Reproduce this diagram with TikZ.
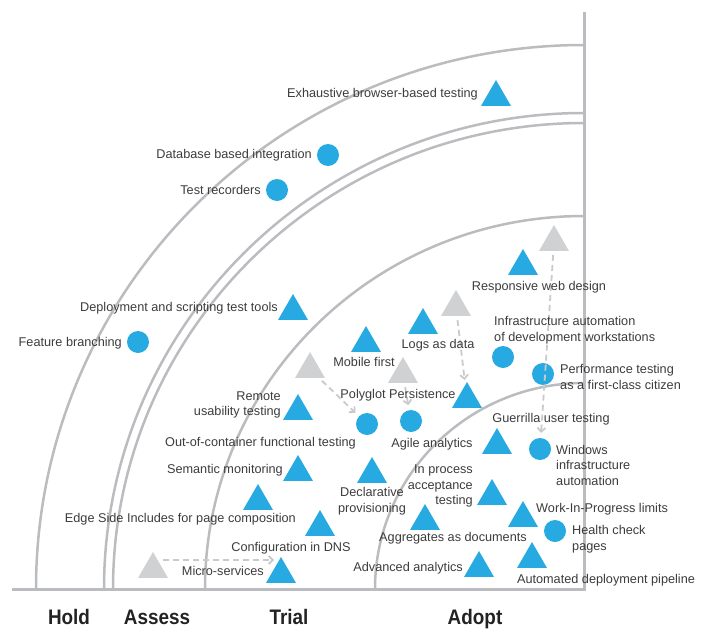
\documentclass[tikz,border=0pt]{standalone}
\usepackage{fontspec}
\setmainfont{Liberation Sans}
\newfontfamily\ringfont[FakeStretch=0.9]{Liberation Sans}
\usetikzlibrary{shapes.geometric,arrows.meta}
\definecolor{rblue}{HTML}{27AAE1}
\definecolor{rgreyT}{HTML}{D0D1D3}
\definecolor{rline}{HTML}{BBBCBF}
\definecolor{rtext}{HTML}{3C3C3C}
\definecolor{rdash}{HTML}{C9CACC}
\definecolor{rhead}{HTML}{222222}
\begin{document}
\begin{tikzpicture}[x=1pt,y=-1pt,
 tri/.style={regular polygon,regular polygon sides=3,minimum size=34.6pt,inner sep=0pt,outer sep=0pt,fill=rblue,yshift=-4.3pt},
 oldtri/.style={tri,fill=rgreyT},
 dot/.style={circle,minimum size=22pt,inner sep=0pt,outer sep=0pt,fill=rblue},
 lbl/.style={font=\fontsize{12.7}{15.5}\selectfont,text=rtext,inner sep=0pt},
 ring/.style={draw=rline,line width=2.5pt},
 axisline/.style={draw=rline,line width=3pt},
 mv/.style={draw=rdash,line width=1.8pt,dash pattern=on 6pt off 4pt,-{Straight Barb[length=4pt,width=8pt]},shorten >=5pt,shorten <=4pt},
 ringlabel/.style={font=\ringfont\fontsize{21}{24}\bfseries\selectfont,text=rhead,inner sep=0pt,anchor=base}
]
\useasboundingbox (0,0) rectangle (707,629);

% rings
\draw[ring] (36,589) arc[start angle=180,end angle=90,x radius=548pt,y radius=544pt];
\draw[ring] (104,589) arc[start angle=180,end angle=90,x radius=480pt,y radius=476pt];
\draw[ring] (113,589) arc[start angle=180,end angle=90,x radius=471pt,y radius=466pt];
\draw[ring] (205,589) arc[start angle=180,end angle=90,x radius=379pt,y radius=373pt];
\draw[ring] (375,589) arc[start angle=180,end angle=90,x radius=209pt,y radius=206pt];
\draw[axisline] (12,589) -- (584,589) -- (584,12);

% ring labels
\node[ringlabel] (hold) at (69,624) {Hold};
\node[ringlabel] (assess) at (157,624) {Assess};
\node[ringlabel] (trial) at (289,624) {Trial};
\node[ringlabel] (adopt) at (475,624) {Adopt};

% blips
\node[tri] (ebt) at (496,93) {};
\node[dot] (dbi) at (328,155) {};
\node[dot] (trc) at (277,190) {};
\node[tri] (dst) at (293,307) {};
\node[dot] (fbr) at (138,342) {};
\node[tri] (mfi) at (366,339) {};
\node[tri] (lad) at (423,321) {};
\node[tri] (ppe) at (467,395) {};
\node[dot] (aan) at (411,421) {};
\node[dot] (ooc) at (367,424) {};
\node[tri] (rut) at (298,407) {};
\node[tri] (smo) at (298,468) {};
\node[tri] (esi) at (258,497) {};
\node[tri] (dns) at (320,523) {};
\node[tri] (msv) at (281,570) {};
\node[tri] (dpr) at (372,470) {};
\node[tri] (gut) at (497,441) {};
\node[dot] (wia) at (540,449) {};
\node[tri] (rwd) at (523,262) {};
\node[dot] (iad) at (503,357) {};
\node[dot] (ptc) at (543,374) {};
\node[tri] (ipa) at (492,492) {};
\node[tri] (agg) at (425,517) {};
\node[tri] (wip) at (523,514) {};
\node[dot] (hcp) at (555,531) {};
\node[tri] (adv) at (479,564) {};
\node[tri] (adp) at (532,555) {};

% old positions
\node[oldtri] (g1) at (153,565) {};
\node[oldtri] (g2) at (310,365) {};
\node[oldtri] (g3) at (403,370) {};
\node[oldtri] (g4) at (456,303) {};
\node[oldtri] (g5) at (554,238) {};

% moves
\coordinate (msy) at (0,560);
\draw[mv,shorten <=0pt,shorten >=-3pt] (g1.east |- msy) -- (msv.west |- msy);
\draw[mv] (g2) -- (ooc);
\draw[mv] (g3) -- (aan);
\draw[mv] (g4) -- (ppe);
\draw[mv] (g5) -- (wia);

% labels
\node[lbl,anchor=base east] (l-ebt) at (478,97) {Exhaustive browser-based testing};
\node[lbl,anchor=base east] (l-dbi) at (312,158) {Database based integration};
\node[lbl,anchor=base east] (l-trc) at (261,194) {Test recorders};
\node[lbl,anchor=base east] (l-dst) at (278,311) {Deployment and scripting test tools};
\node[lbl,anchor=base east] (l-fbr) at (122,346) {Feature branching};
\node[lbl,anchor=base] (l-mfi) at (364,366) {Mobile first};
\node[lbl,anchor=base] (l-lad) at (438,348) {Logs as data};
\node[lbl,anchor=base] (l-rwd) at (539,290) {Responsive web design};
\node[lbl,anchor=west,align=left] (l-iad) at (494,330) {Infrastructure automation\\of development workstations};
\node[lbl,anchor=west,align=left] (l-ptc) at (560,377) {Performance testing\\as a first-class citizen};
\node[lbl,anchor=base] (l-ppe) at (398,398) {Polyglot Persistence};
\node[lbl,anchor=east,align=right] (l-rut) at (281,405) {Remote\\usability testing};
\node[lbl,anchor=base] (l-aan) at (432,447) {Agile analytics};
\node[lbl,anchor=base east] (l-ooc) at (356,446) {Out-of-container functional testing};
\node[lbl,anchor=base] (l-gut) at (551,422) {Guerrilla user testing};
\node[lbl,anchor=west,align=left] (l-wia) at (556,465) {Windows\\infrastructure\\automation};
\node[lbl,anchor=base east] (l-smo) at (283,473) {Semantic monitoring};
\node[lbl,anchor=east,align=right] (l-ipa) at (473,486) {In process\\acceptance\\testing};
\node[lbl,anchor=center,align=center] (l-dpr) at (372,501) {Declarative\\provisioning};
\node[lbl,anchor=base west] (l-wip) at (536,512) {Work-In-Progress limits};
\node[lbl,anchor=base east] (l-esi) at (296,522) {Edge Side Includes for page composition};
\node[lbl,anchor=west,align=left] (l-hcp) at (572,539) {Health check\\pages};
\node[lbl,anchor=base] (l-agg) at (453,541) {Aggregates as documents};
\node[lbl,anchor=base] (l-dns) at (291,551) {Configuration in DNS};
\node[lbl,anchor=base east] (l-adv) at (463,571) {Advanced analytics};
\node[lbl,anchor=base east] (l-msv) at (264,575) {Micro-services};
\node[lbl,anchor=base] (l-adp) at (606,583) {Automated deployment pipeline};
\end{tikzpicture}
\end{document}
